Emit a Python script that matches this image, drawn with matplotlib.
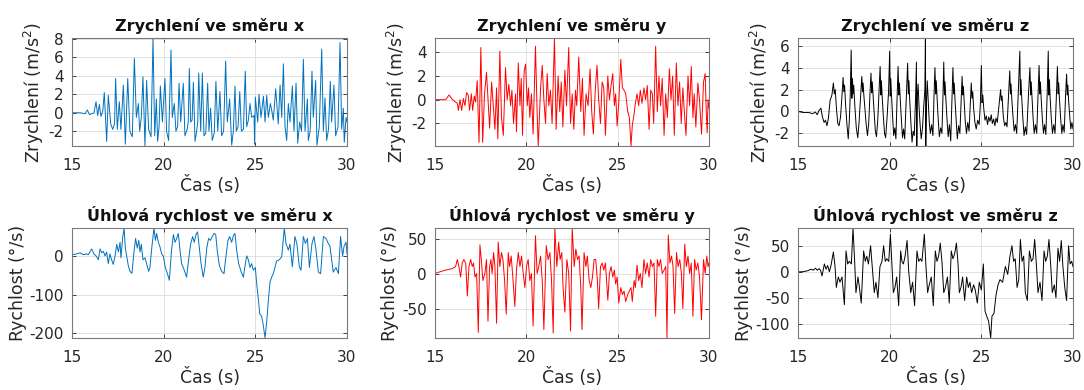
import numpy as np
import matplotlib
matplotlib.use('Agg')
import matplotlib.pyplot as plt

plt.rcParams['font.family'] = 'DejaVu Sans'
plt.rcParams['mathtext.default'] = 'regular'
plt.rcParams['axes.unicode_minus'] = False

# accelerometer x (m/s^2), (time s, value)
acc_x = [
    (15.00, 0.0), (15.44, 0.0), (15.71, -0.1), (15.84, 0.3), (15.95, -0.2), (16.09, -0.1),
    (16.20, 0.0), (16.31, 1.2), (16.40, -0.3), (16.49, 0.9), (16.58, -0.4), (16.68, 0.2),
    (16.76, 2.2), (16.89, -3.1), (16.98, 1.9), (17.11, -1.2), (17.22, -1.8), (17.32, -1.2),
    (17.38, 3.7), (17.47, -1.8), (17.58, 1.2), (17.67, -1.8), (17.80, 3.0), (17.91, -3.4),
    (18.04, 3.7), (18.16, -2.0), (18.29, -2.6), (18.40, 5.9), (18.51, -0.5), (18.62, 1.0),
    (18.69, -2.0), (18.78, -0.5), (18.87, 3.9), (18.98, -3.6), (19.07, 3.5), (19.18, -1.8),
    (19.31, -2.6), (19.42, 8.1), (19.51, -2.5), (19.60, 1.5), (19.67, -3.1), (19.75, -1.5),
    (19.82, 2.9), (19.93, -1.0), (20.07, 3.7), (20.16, -2.0), (20.27, -3.0), (20.40, 6.8),
    (20.47, -0.5), (20.58, 1.0), (20.67, -2.0), (20.76, -1.5), (20.84, 3.2), (20.93, -1.0),
    (21.07, 3.2), (21.16, -2.5), (21.28, -1.8), (21.34, -1.0), (21.40, 4.8), (21.47, -1.0),
    (21.55, -0.8), (21.62, 3.3), (21.71, -3.1), (21.80, -2.0), (21.86, -1.0), (21.91, 4.3),
    (22.02, -2.0), (22.11, 4.3), (22.20, -2.5), (22.30, -2.2), (22.40, 3.2), (22.47, -2.0),
    (22.56, 0.5), (22.65, -3.0), (22.76, -2.2), (22.85, 3.4), (22.95, -2.0), (23.07, 2.3),
    (23.16, -2.5), (23.27, -2.0), (23.38, 5.6), (23.47, -1.0), (23.60, 1.5), (23.71, -3.5),
    (23.80, -2.0), (23.89, 2.9), (23.96, -2.0), (24.06, -1.5), (24.15, 2.3), (24.24, -2.0),
    (24.35, -1.8), (24.45, 4.5), (24.53, -1.5), (24.62, -0.8), (24.71, 1.0), (24.80, -0.5),
    (24.93, -0.3), (24.96, -3.4), (25.00, 1.7), (25.13, -1.0), (25.20, 2.0), (25.31, -0.5),
    (25.44, 1.8), (25.53, -1.0), (25.62, 1.9), (25.71, -0.5), (25.82, 1.0), (25.90, 0.2),
    (25.98, -0.8), (26.11, 2.6), (26.25, -1.2), (26.35, 3.0), (26.44, -0.5), (26.53, 5.3),
    (26.62, -1.5), (26.71, -3.0), (26.80, 1.0), (26.89, -1.0), (27.02, 2.9), (27.11, -2.0),
    (27.22, 3.2), (27.31, -3.3), (27.42, -1.0), (27.52, -2.0), (27.62, 5.8), (27.71, -2.0),
    (27.84, 1.5), (27.89, -3.0), (27.99, -2.0), (28.09, 4.5), (28.16, -0.5), (28.29, 3.5),
    (28.36, -3.5), (28.49, -1.5), (28.62, 6.9), (28.71, -2.0), (28.80, 1.6), (28.89, -3.0),
    (28.99, -1.8), (29.09, 3.4), (29.16, -1.0), (29.29, 3.0), (29.38, -2.5), (29.51, -1.5),
    (29.62, 7.6), (29.71, -1.8), (29.80, 0.5), (29.85, -3.2), (29.95, -0.5), (30.00, -1.0),
]

# accelerometer y (m/s^2)
acc_y = [
    (15.00, 0.0), (15.58, 0.0), (15.77, 0.4), (15.91, 0.1), (16.04, -0.1), (16.22, -0.3),
    (16.28, -0.9), (16.37, 0.0), (16.46, -0.9), (16.55, 0.1), (16.64, -0.5), (16.73, 0.6),
    (16.82, 0.4), (16.89, -0.9), (16.99, 0.5), (17.06, -0.9), (17.15, 0.3), (17.22, -0.2),
    (17.31, 1.6), (17.41, -3.6), (17.51, 4.4), (17.61, -3.6), (17.71, 0.5), (17.82, 2.3),
    (17.92, -0.5), (17.99, -2.4), (18.10, 1.5), (18.19, -0.5), (18.28, -2.5), (18.37, 1.0),
    (18.44, -3.3), (18.55, 4.1), (18.64, -1.5), (18.74, -3.0), (18.86, 2.7), (18.95, 0.0),
    (19.04, 1.3), (19.14, -0.5), (19.21, 0.8), (19.30, -2.0), (19.41, 0.5), (19.46, -2.7),
    (19.56, 3.1), (19.65, -0.5), (19.72, 1.8), (19.79, -3.0), (19.88, 2.4), (19.96, 3.0),
    (20.05, -0.5), (20.12, 1.0), (20.19, -1.5), (20.28, 0.5), (20.37, -2.9), (20.50, 4.5),
    (20.59, -1.0), (20.65, -3.9), (20.78, 1.0), (20.87, 2.9), (20.96, 0.0), (21.05, -2.0),
    (21.14, 2.2), (21.23, -0.5), (21.32, 0.8), (21.41, -2.0), (21.54, 5.2), (21.63, -2.5),
    (21.74, 2.0), (21.83, -1.0), (21.91, 1.5), (22.00, -2.3), (22.11, 2.5), (22.20, -0.5),
    (22.32, 4.4), (22.42, -2.0), (22.51, 0.5), (22.60, -2.5), (22.69, 0.8), (22.76, -0.5),
    (22.87, 3.6), (22.98, -1.0), (23.07, 1.8), (23.16, -3.0), (23.27, 0.5), (23.38, -0.5),
    (23.49, 2.6), (23.58, -1.0), (23.67, -2.9), (23.78, 1.0), (23.87, 2.9), (23.96, 0.0),
    (24.06, -2.0), (24.15, 1.5), (24.24, 1.0), (24.33, -3.0), (24.46, 2.0), (24.55, 0.0),
    (24.64, 1.2), (24.73, 2.2), (24.82, -0.5), (24.89, 0.5), (24.97, -2.2), (25.06, -0.3),
    (25.17, 3.4), (25.26, 1.0), (25.35, 0.8), (25.44, 0.5), (25.55, -1.0), (25.64, -1.5),
    (25.73, -3.9), (25.80, -2.2), (25.90, -1.2), (25.97, -0.3), (26.06, 0.5), (26.15, -0.5),
    (26.24, 0.8), (26.33, -0.3), (26.44, 1.0), (26.53, 0.0), (26.62, 1.2), (26.72, -2.5),
    (26.81, 0.8), (26.90, 0.5), (26.97, -2.0), (27.08, 4.5), (27.17, -1.0), (27.26, 2.0),
    (27.35, -0.5), (27.44, 1.8), (27.54, -3.0), (27.63, 0.5), (27.72, -1.5), (27.83, 2.6),
    (27.92, 0.0), (28.01, 2.0), (28.10, -3.0), (28.21, 3.1), (28.30, -0.5), (28.39, 1.5),
    (28.48, -2.0), (28.57, 1.0), (28.67, -1.5), (28.74, -3.0), (28.85, 2.0), (28.94, -0.5),
    (29.03, 2.8), (29.12, -1.5), (29.19, 0.5), (29.28, -2.3), (29.39, 1.4), (29.48, 0.0),
    (29.59, -2.9), (29.70, 1.5), (29.79, 2.2), (29.85, -1.0), (29.90, -2.8), (29.95, 0.0),
    (30.00, -0.7),
]

# accelerometer z (m/s^2)
acc_z = [
    (15.00, 0.0), (15.30, -0.1), (15.60, -0.1), (15.80, -0.2), (15.95, -0.05), (16.05, -0.3),
    (16.15, 0.1), (16.25, 0.3), (16.32, -0.4), (16.42, -1.0), (16.50, -0.8), (16.58, -1.3),
    (16.66, -0.6), (16.75, 1.0), (16.85, 1.5),
    (16.93, 2.6), (16.98, 1.6), (17.03, 2.0), (17.10, 0.2), (17.17, -1.1), (17.24, -1.3),
    (17.32, -0.5), (17.39, 1.2),
    (17.46, 3.1), (17.50, 1.8), (17.54, 2.4), (17.60, 0.5), (17.67, -1.2), (17.74, -2.5),
    (17.80, -0.8), (17.85, 1.5),
    (17.90, 5.6), (17.94, 1.2), (17.97, 3.0), (18.00, 1.6), (18.04, 2.4), (18.10, 0.5),
    (18.18, -1.5), (18.26, -2.4), (18.33, -1.0), (18.41, 1.2),
    (18.48, 3.2), (18.52, 1.8), (18.55, 2.6), (18.59, 1.5), (18.65, 0.2), (18.72, -1.2),
    (18.79, -2.2), (18.86, -1.0), (18.92, 1.4),
    (18.98, 3.5), (19.02, 1.7), (19.05, 2.7), (19.09, 1.6), (19.15, 0.0), (19.22, -1.8),
    (19.28, -2.3), (19.35, -0.8), (19.42, 1.8),
    (19.48, 4.1), (19.52, 1.5), (19.55, 2.8), (19.59, 1.4), (19.65, -0.3), (19.72, -2.0),
    (19.78, -2.4), (19.86, -0.5), (19.94, 1.8),
    (20.00, 5.5), (20.03, 1.4), (20.06, 3.0), (20.10, 1.5), (20.16, -0.5), (20.22, -2.2),
    (20.28, -1.5), (20.34, -2.5), (20.40, 1.0),
    (20.46, 4.1), (20.50, 1.5), (20.53, 2.6), (20.57, 1.3), (20.63, -0.5), (20.70, -2.4),
    (20.76, -1.6), (20.82, -2.5), (20.91, 1.5),
    (20.98, 4.4), (21.02, 1.6), (21.05, 2.8), (21.09, 1.2), (21.15, -0.8), (21.22, -2.8),
    (21.28, -1.8), (21.34, -2.2), (21.41, 1.0),
    (21.46, 4.5), (21.48, -3.15), (21.51, 1.5), (21.55, 2.5), (21.60, 0.5), (21.66, -1.2),
    (21.72, -2.5), (21.79, -1.5), (21.86, 0.5), (21.92, 2.0),
    (21.95, 6.7), (21.97, -3.15), (22.01, 1.0), (22.05, 2.8), (22.10, 1.0), (22.16, -1.0),
    (22.22, -2.0), (22.29, -1.2), (22.36, -2.2), (22.42, 1.5),
    (22.47, 4.0), (22.51, 1.6), (22.54, 2.8), (22.58, 1.5), (22.64, -0.5), (22.71, -2.3),
    (22.78, -1.5), (22.85, -2.0), (22.91, 1.5),
    (22.95, 4.5), (22.99, 1.5), (23.02, 2.7), (23.06, 1.3), (23.12, -0.5), (23.19, -2.3),
    (23.26, -1.2), (23.33, -2.7), (23.40, 1.2),
    (23.45, 4.0), (23.49, 1.6), (23.52, 2.6), (23.56, 1.2), (23.62, -0.6), (23.69, -2.5),
    (23.76, -1.3), (23.83, -2.0), (23.90, 1.0),
    (23.95, 3.2), (23.99, 1.5), (24.02, 2.3), (24.06, 1.0), (24.12, -0.8), (24.19, -2.0),
    (24.26, -1.0), (24.33, -1.8), (24.40, 0.8),
    (24.45, 2.6), (24.49, 1.2), (24.53, 1.8), (24.58, 0.3), (24.65, -1.0), (24.72, -1.6),
    (24.80, -0.8), (24.88, -1.2), (24.95, 0.8),
    (25.00, 4.2), (25.04, 0.8), (25.08, 1.5), (25.13, 0.3), (25.20, -0.8), (25.27, -0.4),
    (25.34, -1.2), (25.40, -0.5), (25.47, -0.9), (25.54, -0.3), (25.60, -1.1), (25.67, -0.7),
    (25.74, -1.3), (25.80, -0.6), (25.87, -1.0), (25.94, 0.2),
    (26.05, 2.0), (26.09, 1.0), (26.13, 1.4), (26.20, -0.5), (26.27, -1.3), (26.34, -1.0),
    (26.40, -1.4), (26.47, 1.0),
    (26.55, 3.7), (26.59, 1.6), (26.62, 2.5), (26.66, 1.2), (26.72, -0.3), (26.79, -1.8),
    (26.86, -1.2), (26.93, -2.0), (27.01, 1.5),
    (27.10, 5.5), (27.13, 1.5), (27.16, 2.9), (27.20, 1.4), (27.26, -0.5), (27.33, -2.2),
    (27.40, -1.4), (27.47, -2.1), (27.57, 1.5),
    (27.65, 4.0), (27.69, 1.5), (27.72, 2.7), (27.76, 1.4), (27.82, -0.5), (27.88, -2.0),
    (27.95, -1.2), (28.02, -2.0), (28.09, 1.2),
    (28.15, 4.2), (28.19, 1.6), (28.22, 2.7), (28.26, 1.3), (28.32, -0.5), (28.39, -2.0),
    (28.45, -1.2), (28.52, -2.1), (28.59, 1.5),
    (28.65, 5.5), (28.68, 1.5), (28.71, 2.9), (28.75, 1.4), (28.81, -0.5), (28.88, -2.0),
    (28.95, -1.2), (29.02, -2.0), (29.09, 1.3),
    (29.15, 4.1), (29.19, 1.6), (29.22, 2.6), (29.26, 1.2), (29.32, -0.5), (29.39, -2.0),
    (29.45, -1.2), (29.52, -1.9), (29.59, 1.3),
    (29.65, 3.4), (29.69, 1.5), (29.72, 2.4), (29.76, 1.0), (29.82, -0.4), (29.88, -1.6),
    (29.94, -1.0), (30.00, -1.6),
]

# gyroscope x (deg/s)
gyr_x = [
    (15.00, 3), (15.25, 5), (15.44, 8), (15.62, 3), (15.80, 5), (15.89, 3), (16.07, 18),
    (16.20, 5), (16.31, 0), (16.44, -10), (16.53, 18), (16.62, 8), (16.71, 12), (16.80, 0),
    (16.89, 10), (16.98, -20), (17.07, 5), (17.16, -10), (17.25, -22), (17.35, 0), (17.44, 30),
    (17.53, 10), (17.62, 35), (17.67, -5), (17.76, 45), (17.84, 72), (17.91, 20), (17.98, 0),
    (18.07, -25), (18.16, -40), (18.27, -45), (18.38, 10), (18.47, 45), (18.56, 20), (18.64, 40),
    (18.71, 10), (18.78, 30), (18.87, -10), (18.98, -5), (19.07, -20), (19.18, -40), (19.25, -30),
    (19.35, 20), (19.47, 72), (19.55, 40), (19.62, 58), (19.71, 35), (19.80, 23), (19.89, 5),
    (19.98, 0), (20.09, -30), (20.20, -45), (20.31, -63), (20.42, 10), (20.53, 55), (20.62, 35),
    (20.71, 45), (20.80, 58), (20.89, 15), (20.98, -20), (21.11, -35), (21.25, -55), (21.36, -10),
    (21.47, 30), (21.58, 50), (21.67, 35), (21.76, 55), (21.85, 62), (21.95, 20), (22.04, -20),
    (22.16, -55), (22.25, -30), (22.35, 20), (22.45, 45), (22.55, 40), (22.65, 50), (22.75, 58),
    (22.84, 55), (22.93, 10), (23.04, -25), (23.16, -40), (23.29, -46), (23.40, 0), (23.51, 40),
    (23.60, 50), (23.71, 35), (23.80, 52), (23.89, 58), (23.98, 15), (24.09, -20), (24.22, -40),
    (24.35, -55), (24.44, -25), (24.53, 0), (24.62, -10), (24.71, -30), (24.80, -20), (24.89, -37),
    (25.00, -30), (25.07, -70), (25.16, -110), (25.24, -150), (25.34, -155), (25.42, -175),
    (25.53, -212), (25.62, -170), (25.71, -115), (25.80, -67), (25.89, -55), (25.98, -46),
    (26.07, -30), (26.16, -13), (26.31, -10), (26.44, -2), (26.58, 72), (26.67, 32), (26.80, 15),
    (26.89, 30), (27.02, -28), (27.16, 50), (27.27, 30), (27.40, -28), (27.49, -37), (27.62, 50),
    (27.73, 32), (27.84, 45), (27.95, -30), (28.09, 32), (28.20, 50), (28.31, 15), (28.44, -42),
    (28.56, -46), (28.71, 50), (28.85, 45), (28.98, 32), (29.07, 25), (29.25, -42), (29.40, -30),
    (29.53, -46), (29.65, 50), (29.76, 0), (29.84, 25), (29.95, 35), (30.00, 5),
]

# gyroscope y (deg/s)
gyr_y = [
    (15.00, 0), (15.22, 2), (15.58, 5), (15.95, 7), (16.13, 10), (16.22, 20), (16.31, 10),
    (16.40, -5), (16.49, 15), (16.58, 20), (16.68, 15), (16.77, -32), (16.86, 10), (16.95, 20),
    (17.04, 10), (17.11, 15), (17.19, -5), (17.28, 0), (17.37, -84), (17.46, 41), (17.55, 15),
    (17.62, -10), (17.73, 0), (17.82, 20), (17.90, -68), (17.99, 10), (18.06, 20), (18.13, 0),
    (18.21, 30), (18.28, 10), (18.37, -71), (18.46, 45), (18.55, 10), (18.64, 30), (18.72, 20),
    (18.81, -10), (18.90, -58), (19.01, 30), (19.08, 10), (19.17, 25), (19.26, -5), (19.37, -47),
    (19.46, 5), (19.56, 30), (19.65, 10), (19.74, 25), (19.83, 0), (19.92, -20), (20.01, 10),
    (20.10, 20), (20.19, -10), (20.28, 0), (20.37, -75), (20.50, 54), (20.59, 0), (20.68, 10),
    (20.78, 25), (20.87, -10), (20.96, -80), (21.09, 40), (21.19, 20), (21.29, 30), (21.38, -10),
    (21.47, -85), (21.56, 65), (21.67, 10), (21.77, 45), (21.85, 20), (21.94, 30), (22.01, -20),
    (22.11, -55), (22.22, 20), (22.32, 0), (22.42, -82), (22.51, 65), (22.62, 10), (22.71, 35),
    (22.80, 20), (22.89, 25), (22.98, -20), (23.05, -80), (23.16, 30), (23.26, 10), (23.34, 25),
    (23.44, -10), (23.53, -20), (23.62, -5), (23.71, 20), (23.80, 20), (23.89, -10), (23.96, -50),
    (24.06, 10), (24.15, 15), (24.24, 5), (24.33, 15), (24.46, -38), (24.55, 0), (24.64, 10),
    (24.73, -5), (24.82, 5), (24.89, -15), (24.97, -5), (25.06, -42), (25.17, -20), (25.26, -30),
    (25.35, -25), (25.44, -40), (25.55, -30), (25.64, -25), (25.73, -20), (25.80, -40),
    (25.90, -10), (25.97, -20), (26.06, 12), (26.15, -10), (26.24, 0), (26.33, -20), (26.44, 20),
    (26.53, 0), (26.62, 15), (26.72, -5), (26.81, 20), (26.90, 10), (26.99, 15), (27.08, -61),
    (27.17, 20), (27.26, 10), (27.35, 20), (27.44, 0), (27.54, 5), (27.63, 10), (27.70, -92),
    (27.77, 55), (27.86, 15), (27.95, 25), (28.03, 10), (28.12, -57), (28.22, 30), (28.31, 10),
    (28.40, 20), (28.49, 0), (28.57, -50), (28.67, 42), (28.76, 10), (28.85, 25), (28.94, 0),
    (29.03, 15), (29.12, -61), (29.21, 20), (29.30, 5), (29.39, 15), (29.48, -5), (29.59, -66),
    (29.70, 20), (29.79, 0), (29.88, 25), (29.95, 10), (30.00, 15),
]

# gyroscope z (deg/s)
gyr_z = [
    (15.00, 0), (15.25, 0), (15.53, 2), (15.71, 5), (15.84, 3), (15.95, 7), (16.05, 3),
    (16.16, 6), (16.24, 2), (16.31, -8), (16.44, 15), (16.53, 5), (16.62, 12), (16.71, 0),
    (16.80, 12), (16.93, 38), (17.02, 10), (17.09, -30), (17.20, -10), (17.29, -20), (17.40, -10),
    (17.53, -63), (17.62, 40), (17.71, 15), (17.80, 20), (17.91, 15), (18.00, 84), (18.09, 20),
    (18.16, -40), (18.27, -10), (18.35, -30), (18.45, -60), (18.58, 40), (18.67, 20), (18.75, 30),
    (18.84, 15), (18.96, 50), (19.07, 0), (19.16, -40), (19.25, -20), (19.36, -50), (19.47, 10),
    (19.58, 20), (19.67, 50), (19.76, 20), (19.84, 25), (19.95, 20), (20.04, 72), (20.13, 10),
    (20.20, -40), (20.29, -30), (20.38, -10), (20.49, -65), (20.60, 40), (20.67, 20), (20.75, 15),
    (20.84, 30), (20.95, 60), (21.04, 0), (21.15, -40), (21.25, -20), (21.36, -65), (21.49, 40),
    (21.58, 20), (21.67, 25), (21.76, 20), (21.89, 72), (21.98, 10), (22.07, -40), (22.16, -25),
    (22.27, -10), (22.38, -65), (22.49, 40), (22.58, 20), (22.67, 30), (22.76, 55), (22.85, 20),
    (22.95, -40), (23.04, -30), (23.15, -10), (23.25, -60), (23.36, 40), (23.45, 25), (23.55, 35),
    (23.64, 55), (23.73, 15), (23.80, -40), (23.89, -30), (23.98, -10), (24.09, -55), (24.20, -10),
    (24.29, -30), (24.38, -20), (24.47, -40), (24.58, -25), (24.67, -35), (24.78, -60),
    (24.89, -20), (25.00, -35), (25.11, 15), (25.20, -75), (25.29, -85), (25.40, -95),
    (25.51, -127), (25.58, -85), (25.69, -80), (25.80, -45), (25.91, -25), (26.02, -15),
    (26.16, -20), (26.31, 10), (26.44, -5), (26.56, 30), (26.67, 50), (26.76, 20), (26.85, 25),
    (26.95, -30), (27.04, -15), (27.13, 62), (27.22, 20), (27.31, 30), (27.40, -40), (27.51, -55),
    (27.62, 40), (27.73, 20), (27.82, 25), (27.91, 62), (28.00, 15), (28.09, -40), (28.20, -20),
    (28.31, -55), (28.42, 40), (28.51, 20), (28.60, 30), (28.69, 62), (28.78, 15), (28.87, -40),
    (28.98, -25), (29.07, -50), (29.18, 45), (29.27, 20), (29.36, 60), (29.45, 10), (29.55, -30),
    (29.65, -55), (29.76, 50), (29.84, 15), (29.93, 20), (30.00, 10),
]

acc_label = 'Zrychlení (m/s$^2$)'
gyr_label = 'Rychlost (°/s)'

panels = [
    (acc_x, '#0072BD', 'Zrychlení ve směru x', acc_label, [-2, 0, 2, 4, 6, 8]),
    (acc_y, '#FF0000', 'Zrychlení ve směru y', acc_label, [-2, 0, 2, 4]),
    (acc_z, '#000000', 'Zrychlení ve směru z', acc_label, [-2, 0, 2, 4, 6]),
    (gyr_x, '#0072BD', 'Úhlová rychlost ve směru x', gyr_label, [-200, -100, 0]),
    (gyr_y, '#FF0000', 'Úhlová rychlost ve směru y', gyr_label, [-50, 0, 50]),
    (gyr_z, '#000000', 'Úhlová rychlost ve směru z', gyr_label, [-100, -50, 0, 50]),
]

W, H = 1084, 390
fig = plt.figure(figsize=(W / 100, H / 100), dpi=100)

# axes boxes in pixels: (left, right) per column, (top, bottom) per row
cols = [(72, 347), (435, 709), (798, 1073)]
rows = [(38, 146), (228, 338)]

for i, (data, color, title, ylabel, yticks) in enumerate(panels):
    x0, x1 = cols[i % 3]
    y0, y1 = rows[i // 3]
    ax = fig.add_axes([x0 / W, 1 - y1 / H, (x1 - x0) / W, (y1 - y0) / H])

    t, v = np.array(data, dtype=float).T
    ax.plot(t, v, color=color, lw=0.7)

    ax.set_xlim(15, 30)
    ax.set_ylim(v.min(), v.max())
    ax.set_xticks([15, 20, 25, 30])
    ax.set_yticks(yticks)
    ax.grid(True, color='#dcdcdc', lw=0.6)
    ax.set_axisbelow(True)

    ax.tick_params(direction='in', length=3, width=0.6, top=True, right=True,
                   labelsize=11, colors='#262626')
    ax.tick_params(axis='x', pad=9)
    ax.tick_params(axis='y', pad=6)
    for s in ax.spines.values():
        s.set_color('#7a7a7a')
        s.set_linewidth(0.8)

    ax.set_title(title, fontsize=11.5, fontweight='bold', pad=5, color='#111111')
    ax.set_xlabel('Čas (s)', fontsize=12.5, color='#262626', labelpad=2)
    ax.set_ylabel(ylabel, fontsize=12.5, color='#262626', labelpad=2)

fig.savefig('out.png', dpi=100)
